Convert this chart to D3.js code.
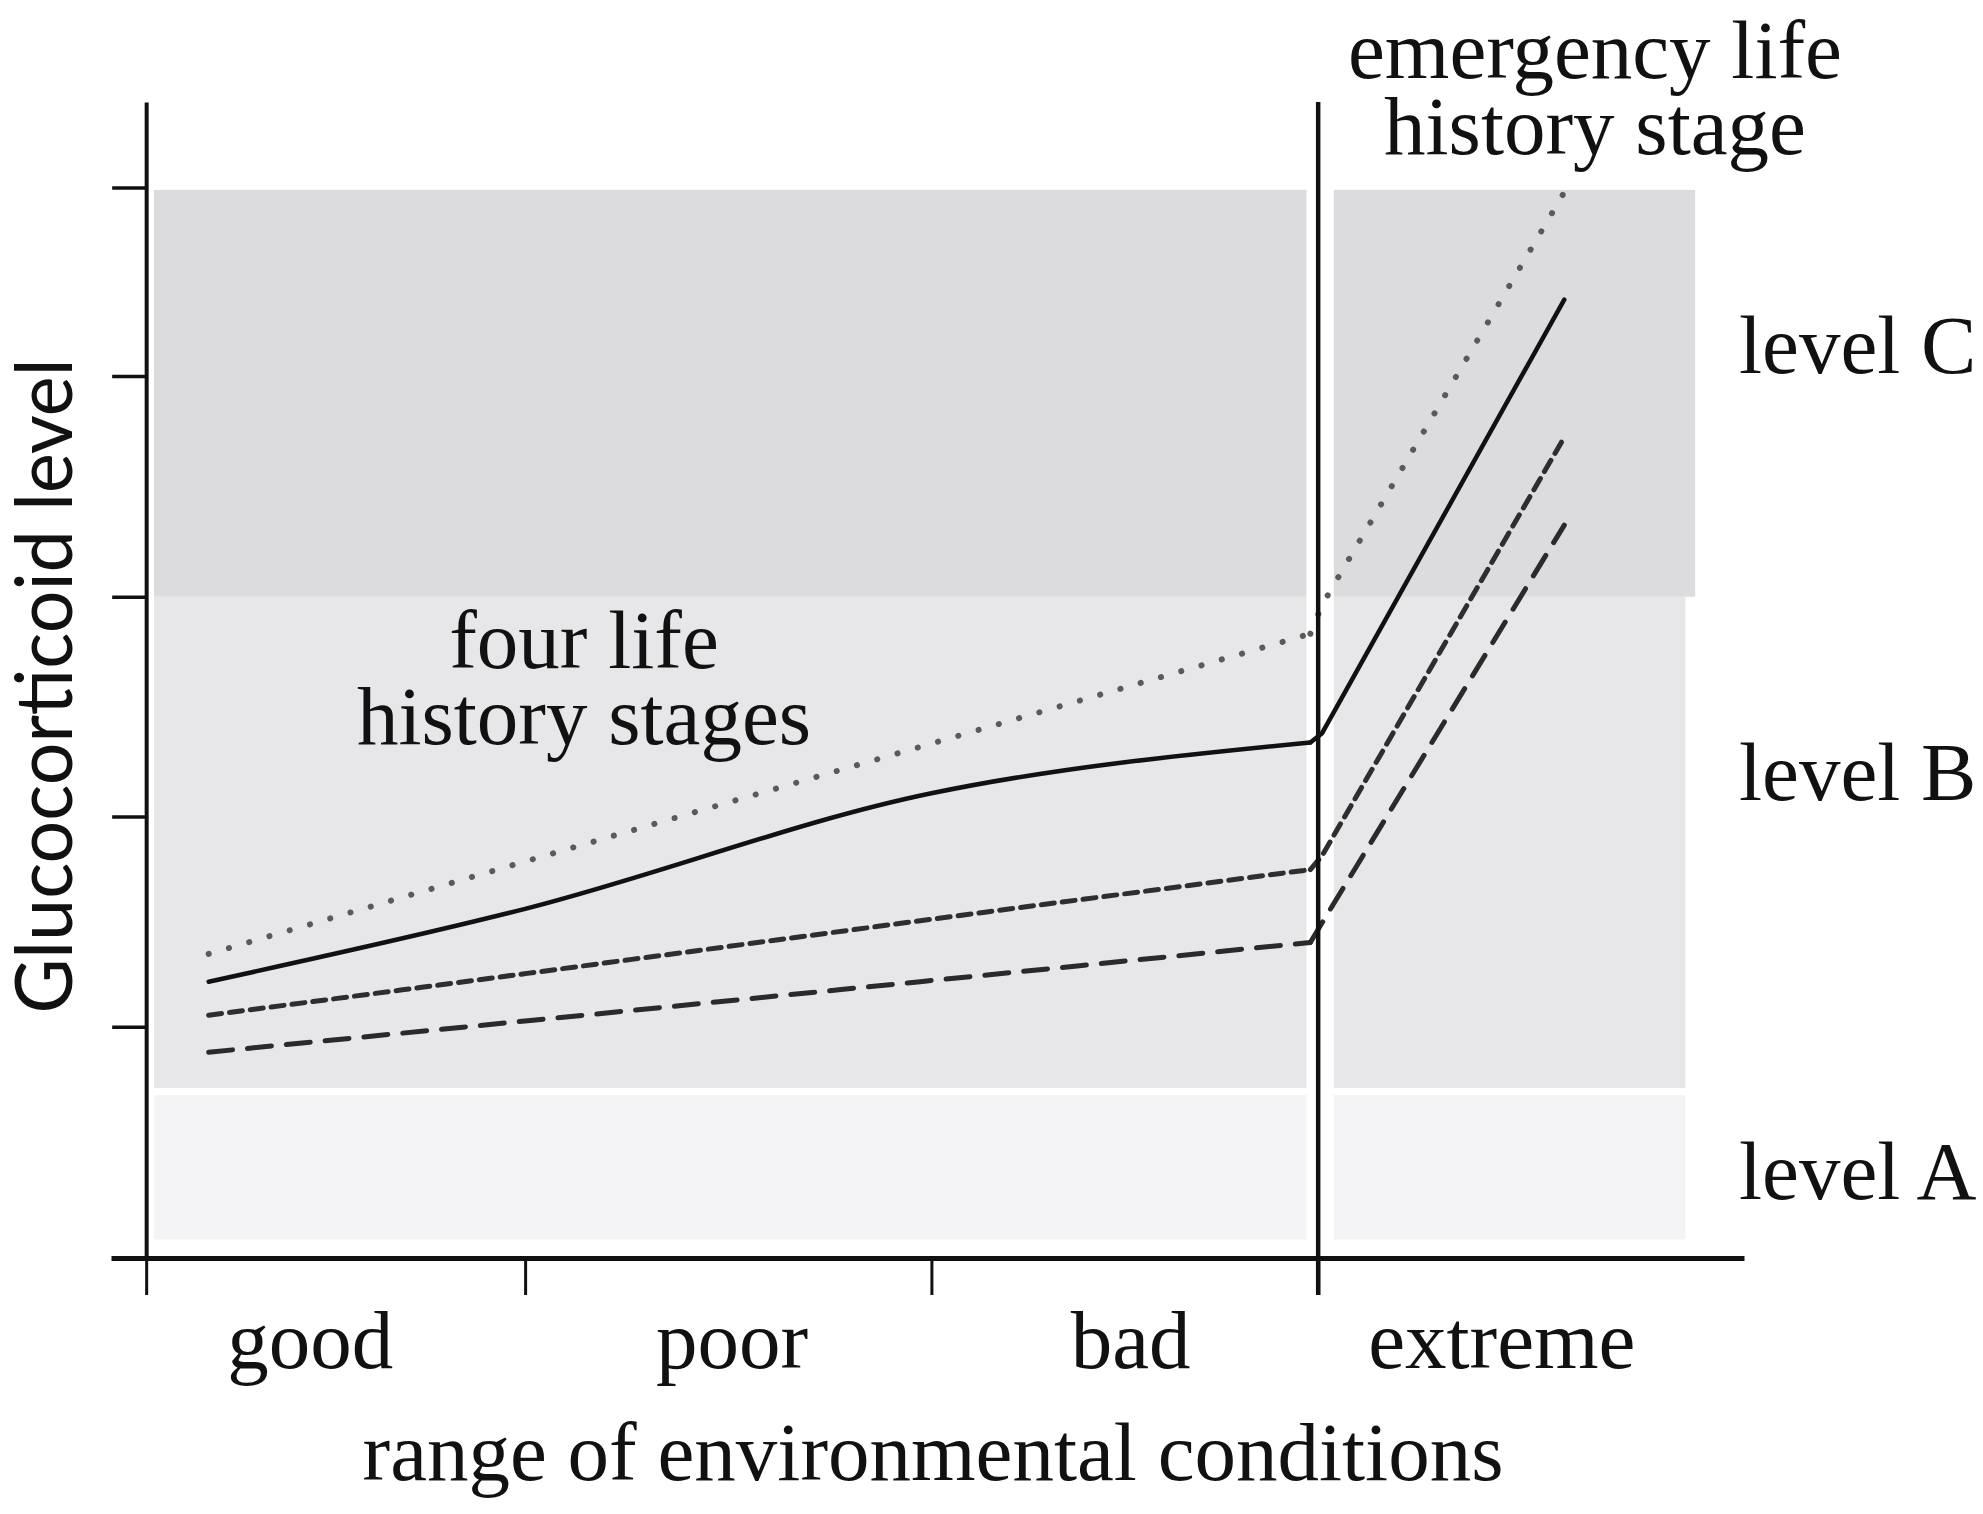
<!DOCTYPE html>
<html>
<head>
<meta charset="utf-8">
<script src="https://cdn.jsdelivr.net/npm/d3@7"></script>
<style>
  body { margin: 0; background: #fff; }
  .serif { font-family: 'Liberation Serif', 'Times New Roman', serif; fill: #111; }
</style>
</head>
<body>
<svg width="1983" height="1514"></svg>
<script>
(function (d3) {
  'use strict';

  // categorias y limites del eje x (unidades de "condicion")
  const categories = ['good', 'poor', 'bad', 'extreme'];
  const categoryCentres = [0.42, 1.50, 2.52, 3.47];
  const boundaryTicks = [0, 0.97, 2.01, 3];

  // marcas del eje y (nivel de glucocorticoides)
  const levelTicks = [0, 20, 38.2, 57.2, 76.3, 92.6];

  // bandas de nivel A, B, C
  const levelNames = ['level A', 'level B', 'level C'];
  const bandLow = [1.6, 14.7, 57.2];
  const bandHigh = [14.1, 57.2, 92.4];

  // cuatro etapas: x comun, y por serie
  // (los 4 primeros puntos van a la izquierda de la linea vertical, los 2 ultimos a la derecha)
  const stageX = [0.16, 0.97, 2.01, 2.98, 3.01, 3.63];
  const dottedY = [26.3, 34.3, 44.5, 54.0, 56.5, 92.2];
  const solidY = [23.9, 30.2, 40.2, 44.6, 45.4, 82.9];
  const dashDotY = [21.0, 24.6, 29.3, 33.6, 34.8, 71.0];
  const dashedY = [17.8, 20.5, 24.0, 27.3, 29.0, 63.4];

  const svg = d3.select('svg');

  const x = d3.scaleLinear().domain([-0.09, 4.09]).range([111, 1744]);
  const y = d3.scaleLinear().domain([0, 100]).range([1258, 102]);

  // bandas grises, cortadas alrededor de la linea vertical
  const bandFill = ['#f4f4f6', '#e7e7e9', '#dcdcde'];
  const bandRight = [3.94, 3.94, 3.965];
  const bands = svg.append('g');
  levelNames.forEach((name, i) => {
    bands.append('rect')
      .attr('x', x(0.02)).attr('width', x(2.97) - x(0.02))
      .attr('y', y(bandHigh[i])).attr('height', y(bandLow[i]) - y(bandHigh[i]))
      .attr('fill', bandFill[i]);
    bands.append('rect')
      .attr('x', x(3.04)).attr('width', x(bandRight[i]) - x(3.04))
      .attr('y', y(bandHigh[i])).attr('height', y(bandLow[i]) - y(bandHigh[i]))
      .attr('fill', bandFill[i]);
  });

  // lineas: tramo izquierdo suave, tramo derecho recto
  const series = [
    { ys: dottedY, dash: '0.1 21', width: 6, colour: '#5a5a5a' },
    { ys: solidY, dash: null, width: 4.5, colour: '#111' },
    { ys: dashDotY, dash: '13 8', width: 5, colour: '#2e2e2e' },
    { ys: dashedY, dash: '24 15', width: 5, colour: '#2a2a2a' }
  ];
  const lineaIzq = d3.line().x(d => x(d[0])).y(d => y(d[1])).curve(d3.curveMonotoneX);
  const lineaDer = d3.line().x(d => x(d[0])).y(d => y(d[1]));
  const grupoLineas = svg.append('g');
  series.forEach(s => {
    const pts = stageX.map((v, i) => [v, s.ys[i]]);
    [lineaIzq(pts.slice(0, 4)), lineaDer(pts.slice(3))].forEach(d => {
      grupoLineas.append('path')
        .attr('d', d)
        .attr('fill', 'none')
        .attr('stroke', s.colour)
        .attr('stroke-width', s.width)
        .attr('stroke-dasharray', s.dash)
        .attr('stroke-linecap', 'round');
    });
  });

  // eje y
  const ejeY = svg.append('g')
    .attr('transform', `translate(${x(0)},0)`)
    .call(d3.axisLeft(y).tickValues(levelTicks).tickSize(34).tickSizeOuter(0).tickFormat(''));
  ejeY.select('.domain').attr('stroke', '#111').attr('stroke-width', 4);
  ejeY.selectAll('.tick line').attr('stroke', '#111').attr('stroke-width', 3.5);

  // eje x
  const ejeX = svg.append('g')
    .attr('transform', `translate(0,${y(0)})`)
    .call(d3.axisBottom(x).tickValues(boundaryTicks).tickSize(37).tickSizeOuter(0).tickFormat(''));
  ejeX.select('.domain').attr('stroke', '#111').attr('stroke-width', 5);
  ejeX.selectAll('.tick line').attr('stroke', '#111').attr('stroke-width', 3);

  // linea vertical de la etapa de emergencia
  svg.append('line')
    .attr('x1', x(3)).attr('x2', x(3))
    .attr('y1', y(100)).attr('y2', y(0) + 37)
    .attr('stroke', '#111').attr('stroke-width', 4.5);

  // etiquetas de categorias
  svg.append('g')
    .selectAll('text')
    .data(categories)
    .join('text')
      .attr('class', 'serif')
      .attr('x', (d, i) => x(categoryCentres[i]))
      .attr('y', 1368)
      .attr('text-anchor', 'middle')
      .attr('font-size', 83)
      .text(d => d);

  svg.append('text')
    .attr('class', 'serif')
    .attr('x', 933).attr('y', 1480)
    .attr('text-anchor', 'middle')
    .attr('font-size', 83)
    .text('range of environmental conditions');

  // etiquetas de nivel
  const levelLabelY = [1199, 800, 373];
  svg.append('g')
    .selectAll('text')
    .data(levelNames)
    .join('text')
      .attr('class', 'serif')
      .attr('x', 1739)
      .attr('y', (d, i) => levelLabelY[i])
      .attr('font-size', 83)
      .text(d => d);

  // anotaciones
  const nota = (lineas, cx, y0) => {
    lineas.forEach((t, i) => {
      svg.append('text')
        .attr('class', 'serif')
        .attr('x', cx).attr('y', y0 + i * 76)
        .attr('text-anchor', 'middle')
        .attr('font-size', 83)
        .text(t);
    });
  };
  nota(['emergency life', 'history stage'], 1595, 78);
  nota(['four life', 'history stages'], 584, 668);

  // titulo del eje y
  svg.append('text')
    .attr('transform', 'translate(72,686) rotate(-90)')
    .attr('text-anchor', 'middle')
    .attr('font-family', 'Lato, sans-serif')
    .attr('font-size', 80)
    .attr('textLength', 655)
    .attr('lengthAdjust', 'spacingAndGlyphs')
    .attr('fill', '#111')
    .text('Glucocorticoid level');

}(d3));
</script>
</body>
</html>
